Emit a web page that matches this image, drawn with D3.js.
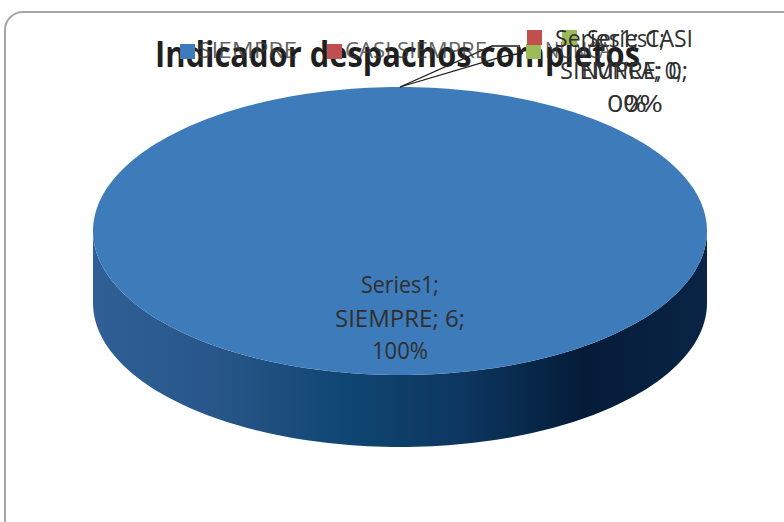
<!DOCTYPE html>
<html>
<head>
<meta charset="utf-8">
<script src="https://cdn.jsdelivr.net/npm/d3@7"></script>
<style>
  html, body { margin: 0; padding: 0; background: #ffffff; }
  svg { display: block; }
</style>
</head>
<body>
<svg id="chart" width="784" height="522"></svg>
<script>
// Chart data
const categories = ["SIEMPRE", "CASI SIEMPRE", "NUNCA"];
const values = [6, 0, 0];
const seriesName = "Series1";
const colors = ["#3E7BBA", "#C0504D", "#9BBB59"];
const title = "Indicador despachos completos";

const svg = d3.select("#chart");
const FONT = "'Open Sans', 'Noto Sans', sans-serif";

// Chart frame
svg.append("rect")
  .attr("x", 5).attr("y", 12)
  .attr("width", 800).attr("height", 525)
  .attr("rx", 18).attr("ry", 18)
  .attr("fill", "#ffffff")
  .attr("stroke", "#A6A6A6").attr("stroke-width", 2);

// 3D pie geometry (ellipse projection)
const cx = 400, cy = 231, rx = 307, ry = 144, depth = 72;

const total = d3.sum(values);
const pie = d3.pie().sort(null).startAngle(0).endAngle(2 * Math.PI);
const arcsData = pie(values);
const pctFmt = v => Math.round(v / total * 100) + "%";

const defs = svg.append("defs");
const grad = defs.append("linearGradient")
  .attr("id", "sideGrad")
  .attr("gradientUnits", "userSpaceOnUse")
  .attr("x1", cx - rx).attr("y1", 0)
  .attr("x2", cx + rx).attr("y2", 0);
[[0, "#2F5F96"], [0.2, "#285689"], [0.42, "#0E4571"], [0.6, "#0D3760"],
 [0.8, "#041C38"], [1, "#0A2446"]].forEach(([o, c]) =>
  grad.append("stop").attr("offset", o).attr("stop-color", c));

// point on the ellipse for a pie angle (0 = top, clockwise)
const pt = (a, dy = 0) => [cx + rx * Math.sin(a), cy - ry * Math.cos(a) + dy];

// side wall (front half of the cylinder)
const sidePath = d3.path();
{
  const n = 120;
  const a0 = Math.PI / 2, a1 = 3 * Math.PI / 2;
  let p = pt(a0);
  sidePath.moveTo(p[0], p[1]);
  for (let i = 0; i <= n; i++) {
    const a = a0 + (a1 - a0) * i / n;
    p = pt(a, depth);
    sidePath.lineTo(p[0], p[1]);
  }
  for (let i = n; i >= 0; i--) {
    const a = a0 + (a1 - a0) * i / n;
    p = pt(a);
    sidePath.lineTo(p[0], p[1]);
  }
  sidePath.closePath();
}

const nonZero = arcsData.filter(d => d.data > 0);
nonZero.forEach(() => {
  svg.append("path").attr("d", sidePath.toString()).attr("fill", "url(#sideGrad)");
});

// top faces
arcsData.forEach((d, i) => {
  if (d.endAngle - d.startAngle <= 0) return;
  const p = d3.path();
  const n = 240;
  const full = (d.endAngle - d.startAngle) >= 2 * Math.PI - 1e-9;
  if (!full) p.moveTo(cx, cy);
  for (let k = 0; k <= n; k++) {
    const a = d.startAngle + (d.endAngle - d.startAngle) * k / n;
    const q = pt(a);
    if (k === 0 && full) p.moveTo(q[0], q[1]); else p.lineTo(q[0], q[1]);
  }
  p.closePath();
  svg.append("path").attr("d", p.toString()).attr("fill", colors[i]);
});

// leader lines for the zero-value labels
const pieTop = pt(0);
const leader = d3.line();
svg.append("path")
  .attr("d", leader([pieTop, [492, 46], [520, 46]]))
  .attr("fill", "none").attr("stroke", "#1a1a1a").attr("stroke-width", 1.3);
svg.append("path")
  .attr("d", leader([pieTop, [505, 56], [523, 53]]))
  .attr("fill", "none").attr("stroke", "#1a1a1a").attr("stroke-width", 1.3);

// Title
svg.append("text")
  .attr("x", 155).attr("y", 67)
  .attr("textLength", 485).attr("lengthAdjust", "spacingAndGlyphs")
  .attr("font-family", FONT).attr("font-weight", "bold")
  .attr("font-size", 35).attr("fill", "#1f1f1f")
  .text(title);

// Legend
const legendItems = [
  { key: [180, 44], tx: 198, tw: 99 },
  { key: [327, 44], tx: 345, tw: 142 },
  { key: [526, 44], tx: 545, tw: 66 }
];
categories.forEach((c, i) => {
  const L = legendItems[i];
  svg.append("rect")
    .attr("x", L.key[0]).attr("y", L.key[1])
    .attr("width", 15).attr("height", 15)
    .attr("fill", colors[i]);
  svg.append("text")
    .attr("x", L.tx).attr("y", 58)
    .attr("textLength", L.tw).attr("lengthAdjust", "spacingAndGlyphs")
    .attr("font-family", FONT).attr("font-size", 22)
    .attr("fill", "#3a3a3a").attr("fill-opacity", 0.8)
    .text(c);
});

// Data labels
const labelColor = "#2f2f2f";
function labelLines(i) {
  const v = values[i];
  return [`${seriesName};`, `${categories[i]}; ${v};`, pctFmt(v)];
}

// main slice label
{
  const lines = labelLines(0);
  const widths = [78, 130, 56];
  const ys = [293, 327, 359];
  lines.forEach((t, k) => {
    svg.append("text")
      .attr("x", 400).attr("y", ys[k])
      .attr("text-anchor", "middle")
      .attr("textLength", widths[k]).attr("lengthAdjust", "spacingAndGlyphs")
      .attr("font-family", FONT).attr("font-size", 23)
      .attr("fill", labelColor)
      .text(t);
  });
}

// zero-value labels (with legend keys), stacked near the top of the pie
{
  // CASI SIEMPRE
  svg.append("rect").attr("x", 527).attr("y", 30).attr("width", 15).attr("height", 15).attr("fill", colors[1]);
  const casi = [
    { t: `${seriesName}; CASI`, x: 555, y: 47, w: 138, a: "start" },
    { t: `SIEMPRE; ${values[1]};`, x: 624, y: 79, w: 128, a: "middle" },
    { t: pctFmt(values[1]), x: 627, y: 112, w: 40, a: "middle" }
  ];
  // NUNCA
  svg.append("rect").attr("x", 562).attr("y", 30).attr("width", 15).attr("height", 15).attr("fill", colors[2]);
  const nunca = [
    { t: `${seriesName};`, x: 587, y: 47, w: 78, a: "start" },
    { t: `NUNCA; ${values[2]};`, x: 632, y: 79, w: 100, a: "middle" },
    { t: pctFmt(values[2]), x: 643, y: 112, w: 40, a: "middle" }
  ];
  casi.concat(nunca).forEach(d => {
    svg.append("text")
      .attr("x", d.x).attr("y", d.y)
      .attr("text-anchor", d.a)
      .attr("textLength", d.w).attr("lengthAdjust", "spacingAndGlyphs")
      .attr("font-family", FONT).attr("font-size", 23)
      .attr("fill", labelColor)
      .text(d.t);
  });
}
</script>
</body>
</html>
